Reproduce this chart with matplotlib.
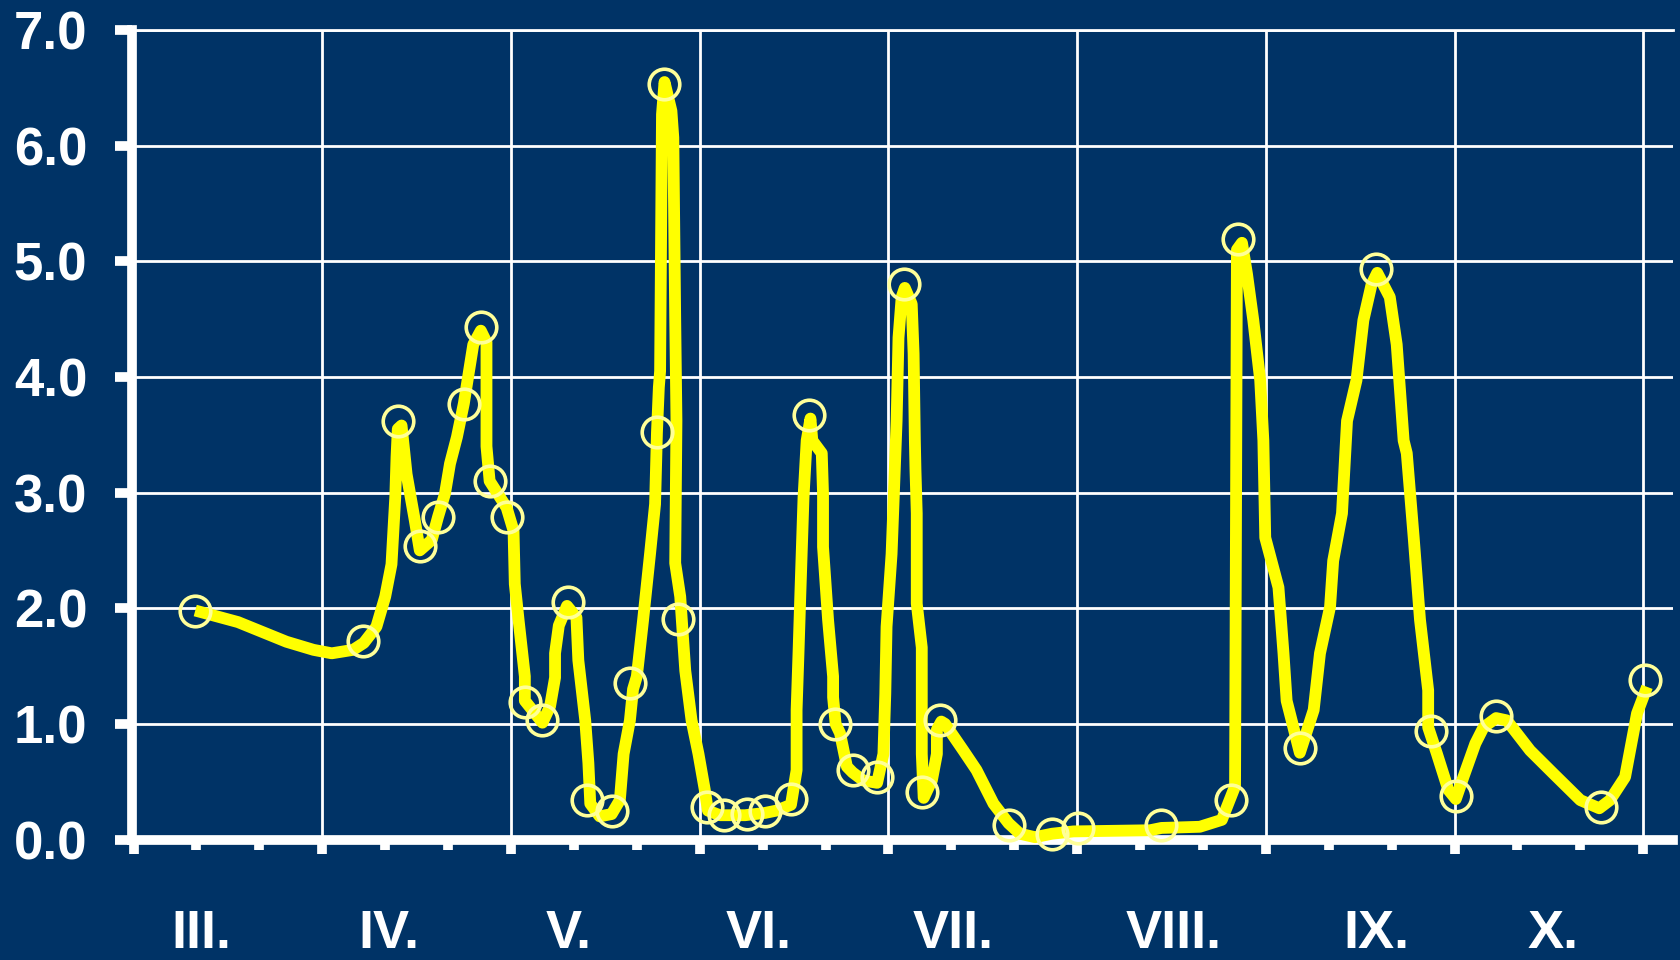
import matplotlib
matplotlib.use("Agg")
import matplotlib.pyplot as plt
import matplotlib.transforms as mtransforms
from matplotlib.ticker import FixedLocator, FormatStrFormatter

# ---------------- data (x = days from start of axis, y = value) ----------------
line_day = [9.8, 16.6, 24.3, 28.6, 31.5, 34.9, 36.6, 38.6, 40.0, 41.0, 41.6, 41.8, 42.0, 42.6,
            43.4, 44.7, 45.5, 47.4, 48.4, 49.5, 50.3, 51.4, 52.5, 54.0, 55.2, 56.1, 56.1, 56.6,
            59.3, 60.4, 60.6, 61.2, 62.2, 62.2, 65.0, 66.2, 67.0, 67.0, 67.6, 68.9, 70.4, 70.7,
            71.8, 72.3, 72.6, 74.1, 76.0, 77.3, 77.9, 78.9, 79.4, 80.0, 81.0, 82.1, 82.9, 83.2,
            83.5, 83.7, 84.0, 84.4, 85.5, 85.8, 86.1, 86.3, 86.1, 86.9, 87.7, 88.7, 89.8, 90.8,
            91.3, 93.2, 97.2, 100.4, 102.2, 104.5, 105.4, 105.4, 105.7, 106.0, 106.5, 107.0,
            107.6, 107.9, 109.4, 109.6, 109.6, 110.4, 111.2, 111.2, 111.6, 112.3, 113.4, 114.3,
            116.0, 118.2, 119.2, 119.5, 119.7, 120.5, 121.0, 121.3, 121.6, 122.1, 122.6, 123.7,
            124.0, 124.2, 124.3, 124.5, 124.5, 125.3, 125.3, 125.6, 126.9, 127.7, 127.7, 128.4,
            129.0, 131.9, 134.0, 136.7, 139.1, 140.9, 143.3, 146.0, 149.4, 161.6, 163.4, 169.5,
            173.0, 175.1, 175.4, 176.2, 177.0, 178.0, 179.1, 179.6, 179.9, 182.0, 182.8, 183.3,
            184.9, 185.4, 187.6, 188.6, 190.2, 190.7, 192.1, 192.9, 194.4, 195.5, 196.8, 197.7,
            199.7, 200.8, 201.9, 202.4, 203.5, 204.5, 205.8, 205.8, 207.2, 209.0, 210.2, 211.4,
            213.3, 214.6, 216.6, 218.3, 222.0, 225.7, 230.0, 233.0, 234.7, 237.1, 239.0, 240.6]
line_val = [1.98, 1.88, 1.71, 1.64, 1.61, 1.64, 1.70, 1.84, 2.10, 2.38, 2.96, 3.31, 3.55, 3.58,
            3.16, 2.76, 2.50, 2.59, 2.79, 2.99, 3.25, 3.48, 3.77, 4.28, 4.40, 4.30, 3.40, 3.10,
            2.87, 2.67, 2.21, 1.90, 1.41, 1.20, 1.01, 1.15, 1.40, 1.61, 1.85, 2.02, 1.92, 1.55,
            1.03, 0.66, 0.31, 0.20, 0.22, 0.34, 0.74, 1.03, 1.30, 1.41, 1.90, 2.47, 2.90, 3.52,
            3.91, 4.05, 6.27, 6.55, 6.30, 6.07, 4.51, 3.62, 2.39, 2.10, 1.46, 1.03, 0.74, 0.43,
            0.25, 0.21, 0.21, 0.23, 0.25, 0.30, 0.60, 1.12, 1.61, 2.13, 2.96, 3.45,
            3.64, 3.45, 3.34, 2.99, 2.53, 1.90, 1.41, 1.23, 1.00, 0.92, 0.63, 0.58,
            0.51, 0.49, 0.74, 1.26, 1.84, 2.47, 3.19, 3.62, 4.34, 4.69, 4.77, 4.63,
            4.20, 3.45, 3.19, 2.82, 2.04, 1.66, 0.74, 0.36, 0.51, 0.74, 0.95, 1.02,
            1.00, 0.77, 0.60, 0.31, 0.14, 0.05, 0.02, 0.05, 0.07, 0.08, 0.10, 0.11,
            0.17, 0.46, 5.10, 5.16, 4.89, 4.49, 3.97, 3.45, 2.61, 2.18, 1.61, 1.20,
            0.86, 0.75, 1.12, 1.61, 2.01, 2.41, 2.82, 3.62, 3.97, 4.49, 4.80, 4.90,
            4.69, 4.28, 3.45, 3.34, 2.61, 1.90, 1.29, 0.97, 0.74, 0.43, 0.35, 0.54,
            0.83, 0.97, 1.05, 1.03, 0.77, 0.57, 0.34, 0.27, 0.34, 0.54, 1.09, 1.32]

mark_day = [9.8, 36.4, 42.1, 45.5, 48.4, 52.5, 55.3, 56.6, 59.4, 62.2, 65.0, 69.1, 72.0, 76.0,
            78.9, 83.2, 84.3, 86.6, 91.1, 93.9, 97.5, 100.4, 104.5, 107.4, 111.5, 114.3, 118.2,
            122.5, 125.3, 128.2, 139.1, 146.0, 150.2, 163.4, 174.5, 175.6, 185.4, 197.5, 206.2,
            210.2, 216.6, 233.2, 240.3]
mark_val = [1.98, 1.72, 3.62, 2.54, 2.79, 3.77, 4.43, 3.10, 2.79, 1.19, 1.03, 2.05, 0.34, 0.25,
            1.35, 3.52, 6.53, 1.91, 0.28, 0.21, 0.22, 0.25, 0.35, 3.67, 1.00, 0.60, 0.54,
            4.80, 0.41, 1.03, 0.125, 0.05, 0.10, 0.125, 0.34, 5.19, 0.79, 4.93, 0.94,
            0.38, 1.07, 0.28, 1.38]

month_labels = ["III.", "IV.", "V.", "VI.", "VII.", "VIII.", "IX.", "X."]
month_label_day = [10.8, 40.6, 69.2, 99.4, 130.3, 165.3, 197.5, 225.7]

y_ticks = [0, 1, 2, 3, 4, 5, 6, 7]
x_major = list(range(0, 241, 30))
x_minor = [d for d in range(0, 241, 10) if d % 30 != 0]

# ---------------- style ----------------
NAVY = "#003366"
YELLOW = "#FFFF00"
PALE = "#FFFF99"
plt.rcParams["font.family"] = ["Liberation Sans", "DejaVu Sans"]
plt.rcParams["font.weight"] = "bold"

W, H = 1681, 960
fig = plt.figure(figsize=(W / 100, H / 100), dpi=100, facecolor=NAVY)
left_px, right_px, top_px, bottom_px = 131.7, 1673.5, 30.0, 839.5
ax = fig.add_axes([left_px / W, 1 - bottom_px / H, (right_px - left_px) / W, (bottom_px - top_px) / H])
ax.set_facecolor(NAVY)
ax.set_xlim(-0.3, 244.8)
ax.set_ylim(0, 7)

for s in ("top", "right"):
    ax.spines[s].set_visible(False)
for s in ("left", "bottom"):
    ax.spines[s].set_color("white")
    ax.spines[s].set_linewidth(7)

ax.yaxis.set_major_locator(FixedLocator(y_ticks))
ax.yaxis.set_major_formatter(FormatStrFormatter("%.1f"))
ax.xaxis.set_major_locator(FixedLocator(x_major))
ax.xaxis.set_minor_locator(FixedLocator(x_minor))
ax.tick_params(axis="y", direction="out", length=12, width=7, color="white",
               pad=20, labelsize=38, labelcolor="white")
ax.tick_params(axis="x", which="major", direction="out", length=10, width=7,
               color="white", labelbottom=False)
ax.tick_params(axis="x", which="minor", direction="out", length=7, width=7,
               color="white", labelbottom=False)
for lbl in ax.get_yticklabels():
    lbl.set_fontweight("bold")

ax.set_axisbelow(True)
ax.grid(True, which="major", color="white", linewidth=2)
ax.axhline(7, color="white", linewidth=2, clip_on=False, zorder=1)

ax.plot(line_day, line_val, color=YELLOW, linewidth=8.5, solid_joinstyle="round",
        solid_capstyle="butt", zorder=3, clip_on=False)
ax.plot(mark_day, mark_val, linestyle="none", marker="o", markersize=22,
        markerfacecolor="none", markeredgecolor=PALE, markeredgewidth=2.6,
        zorder=4, clip_on=False)

trans = mtransforms.blended_transform_factory(ax.transData, ax.transAxes)
for d, lab in zip(month_label_day, month_labels):
    ax.text(d, -0.134, lab, transform=trans, ha="center", va="baseline",
            fontsize=39, fontweight="bold", color="white")

fig.savefig("out.png", dpi=100, facecolor=NAVY)
